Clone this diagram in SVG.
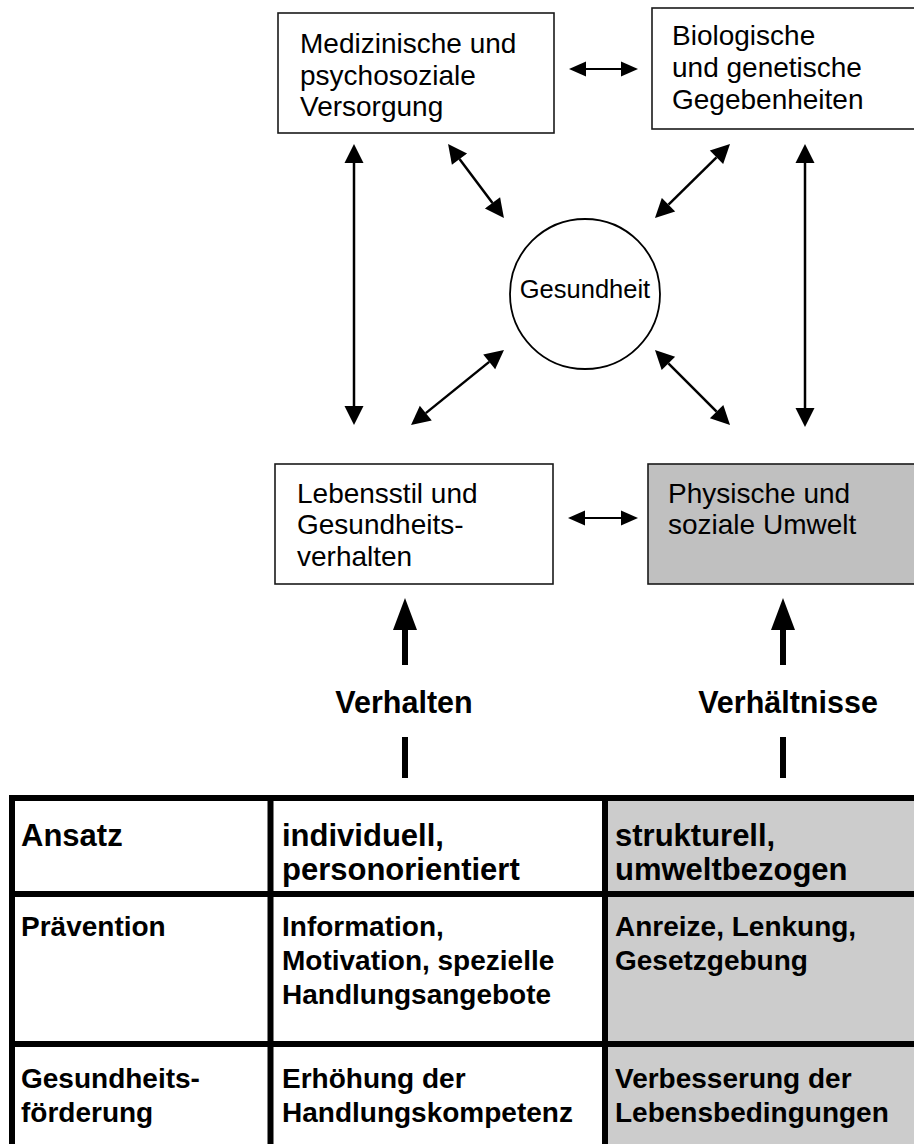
<svg xmlns="http://www.w3.org/2000/svg" width="914" height="1144" viewBox="0 0 914 1144">
<style>
.box{fill:#ffffff;stroke:#1a1a1a;stroke-width:1.6}
.gbox{fill:#c0c0c0;stroke:#1a1a1a;stroke-width:1.6}
.t{font-family:"Liberation Sans",Arial,sans-serif;font-size:28px;fill:#000}
.tb{font-family:"Liberation Sans",Arial,sans-serif;font-size:28px;font-weight:bold;fill:#000}
.tb1{font-family:"Liberation Sans",Arial,sans-serif;font-size:31px;font-weight:bold;fill:#000}
.lbl{font-family:"Liberation Sans",Arial,sans-serif;font-size:30.5px;font-weight:bold;fill:#000}
.thin{stroke:#000;stroke-width:2.5;fill:none}
.small{stroke:#000;stroke-width:2;fill:none}
.thick{stroke:#000;stroke-width:6;fill:none}
.grid{stroke:#000;stroke-width:6;fill:none}
</style>
<defs>
<marker id="ah" markerUnits="userSpaceOnUse" markerWidth="20" markerHeight="20" viewBox="0 -10 19 20" refX="0" refY="0" orient="auto-start-reverse">
<path d="M0,-9.5 L19,0 L0,9.5 Z" fill="#000"/>
</marker>
<marker id="ahs" markerUnits="userSpaceOnUse" markerWidth="18" markerHeight="16" viewBox="0 -8 17 16" refX="0" refY="0" orient="auto-start-reverse">
<path d="M0,-7.5 L17,0 L0,7.5 Z" fill="#000"/>
</marker>
<marker id="aht" markerUnits="userSpaceOnUse" markerWidth="32" markerHeight="26" viewBox="0 -13 32 26" refX="0" refY="0" orient="auto">
<path d="M0,-12 L32,0 L0,12 Z" fill="#000"/>
</marker>
</defs>

<g id="node-versorgung">
<rect class="box" x="278" y="13" width="276" height="120"/>
<text class="t" x="300" y="53">Medizinische und</text>
<text class="t" x="300" y="85">psychosoziale</text>
<text class="t" x="300" y="116">Versorgung</text>
</g>

<g id="node-biologie">
<rect class="box" x="652" y="8" width="280" height="121"/>
<text class="t" x="672" y="45">Biologische</text>
<text class="t" x="672" y="77">und genetische</text>
<text class="t" x="672" y="109">Gegebenheiten</text>
</g>

<g id="node-gesundheit">
<circle cx="585" cy="294" r="75" fill="#fff" stroke="#000" stroke-width="1.8"/>
<text x="585" y="298" text-anchor="middle" style="font-family:'Liberation Sans',Arial,sans-serif;font-size:25.5px">Gesundheit</text>
</g>

<g id="node-lebensstil">
<rect class="box" x="275" y="464" width="278" height="120"/>
<text class="t" x="297" y="503">Lebensstil und</text>
<text class="t" x="297" y="534">Gesundheits-</text>
<text class="t" x="297" y="566">verhalten</text>
</g>

<g id="node-umwelt">
<rect class="gbox" x="648" y="464" width="280" height="120"/>
<text class="t" x="668" y="503">Physische und</text>
<text class="t" x="668" y="534">soziale Umwelt</text>
</g>

<g id="connectors">
<line class="small" x1="586" y1="69" x2="621" y2="69" marker-start="url(#ahs)" marker-end="url(#ahs)"/>
<line class="small" x1="585" y1="518" x2="621" y2="518" marker-start="url(#ahs)" marker-end="url(#ahs)"/>
<line class="thin" x1="354" y1="163" x2="354" y2="406" marker-start="url(#ah)" marker-end="url(#ah)"/>
<line class="thin" x1="805" y1="163" x2="805" y2="408" marker-start="url(#ah)" marker-end="url(#ah)"/>
<line class="thin" x1="459.5" y1="159.1" x2="492.5" y2="202.9" marker-start="url(#ah)" marker-end="url(#ah)"/>
<line class="thin" x1="716.5" y1="157.3" x2="668.5" y2="204.7" marker-start="url(#ah)" marker-end="url(#ah)"/>
<line class="thin" x1="489.2" y1="361.9" x2="425.8" y2="413.1" marker-start="url(#ah)" marker-end="url(#ah)"/>
<line class="thin" x1="668.4" y1="363.4" x2="716.6" y2="411.6" marker-start="url(#ah)" marker-end="url(#ah)"/>
<line class="thick" x1="405" y1="665" x2="405" y2="630" marker-end="url(#aht)"/>
<line class="thick" x1="405" y1="737" x2="405" y2="778"/>
<line class="thick" x1="783" y1="665" x2="783" y2="630" marker-end="url(#aht)"/>
<line class="thick" x1="783" y1="737" x2="783" y2="778"/>
</g>

<g id="label-verhalten">
<text class="lbl" x="404" y="713" text-anchor="middle">Verhalten</text>
</g>
<g id="label-verhaeltnisse">
<text class="lbl" x="788" y="713" text-anchor="middle">Verhältnisse</text>
</g>

<g id="table">
<rect x="605" y="798" width="320" height="360" fill="#cccccc"/>
<line class="grid" x1="9" y1="798" x2="914" y2="798"/>
<line class="grid" x1="9" y1="894" x2="914" y2="894"/>
<line class="grid" x1="9" y1="1044" x2="914" y2="1044"/>
<line class="grid" x1="12" y1="795" x2="12" y2="1144"/>
<line class="grid" x1="270.5" y1="795" x2="270.5" y2="1144"/>
<line class="grid" x1="605" y1="795" x2="605" y2="1144"/>
</g>

<g id="row-ansatz">
<text class="tb1" x="21" y="846">Ansatz</text>
<text class="tb1" x="282" y="846">individuell,</text>
<text class="tb1" x="282" y="880">personorientiert</text>
<text class="tb1" x="615" y="846">strukturell,</text>
<text class="tb1" x="615" y="880">umweltbezogen</text>
</g>
<g id="row-praevention">
<text class="tb" x="21" y="936">Prävention</text>
<text class="tb" x="282" y="936">Information,</text>
<text class="tb" x="282" y="970">Motivation, spezielle</text>
<text class="tb" x="282" y="1004">Handlungsangebote</text>
<text class="tb" x="615" y="936">Anreize, Lenkung,</text>
<text class="tb" x="615" y="970">Gesetzgebung</text>
</g>
<g id="row-foerderung">
<text class="tb" x="21" y="1088">Gesundheits-</text>
<text class="tb" x="21" y="1122">förderung</text>
<text class="tb" x="282" y="1088">Erhöhung der</text>
<text class="tb" x="282" y="1122">Handlungskompetenz</text>
<text class="tb" x="615" y="1088">Verbesserung der</text>
<text class="tb" x="615" y="1122">Lebensbedingungen</text>
</g>
</svg>
